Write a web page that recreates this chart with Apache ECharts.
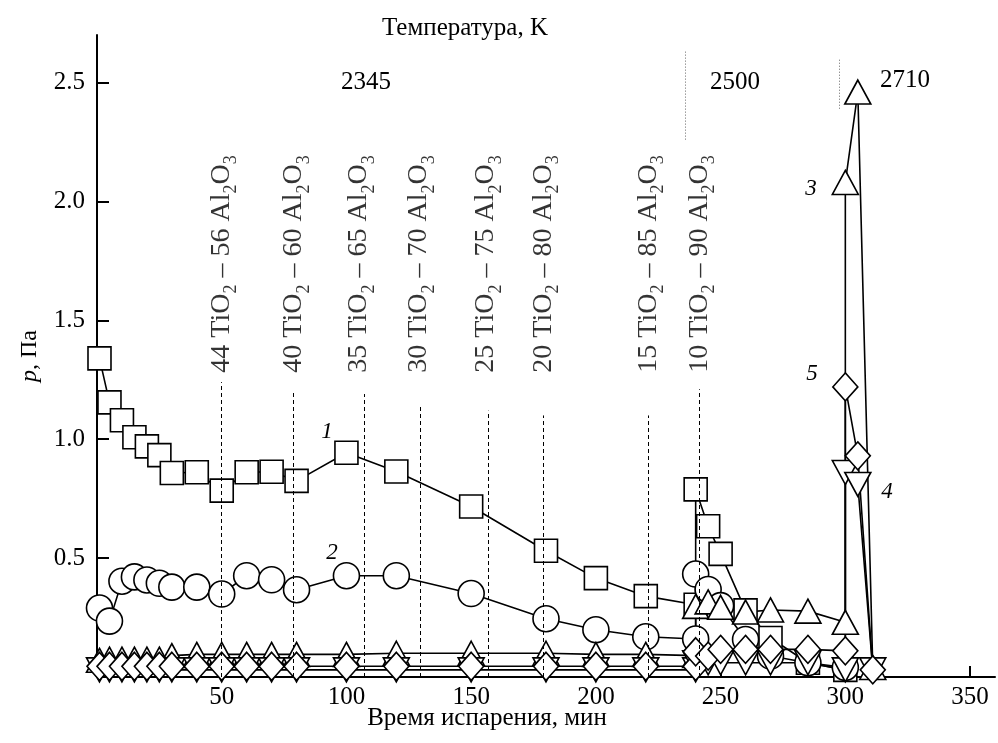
<!DOCTYPE html>
<html lang="ru">
<head>
<meta charset="utf-8" />
<title>Давление пара при испарении TiO2 – Al2O3</title>
<style>
  html, body { margin: 0; padding: 0; background: #fff; }
  #chart { width: 998px; height: 743px; }
</style>
</head>
<body>
<div id="chart"></div>
<script src="https://cdn.jsdelivr.net/npm/echarts@6/dist/echarts.min.js"></script>
<script>
// время испарения, мин (кривые 1, 2)
const time12 = [1, 5, 10, 15, 20, 25, 30, 40, 50, 60, 70, 80, 100, 120, 150, 180, 200, 220, 240, 240, 245, 250, 260, 270, 285, 300];
// время для кривых 3, 4, 5 (есть скачок при 300 мин)
const time345 = [1, 5, 10, 15, 20, 25, 30, 40, 50, 60, 70, 80, 100, 120, 150, 180, 200, 220, 240, 240, 245, 250, 260, 270, 285, 300, 300, 305, 311];

// давление p, Па
const p1 = [1.34, 1.155, 1.08, 1.008, 0.97, 0.933, 0.858, 0.861, 0.784, 0.861, 0.863, 0.825, 0.943, 0.864, 0.717, 0.531, 0.416, 0.34, 0.304, 0.789, 0.634, 0.518, 0.28, 0.164, 0.06, 0.03];
const p2 = [0.29, 0.235, 0.403, 0.421, 0.408, 0.394, 0.378, 0.378, 0.349, 0.426, 0.409, 0.367, 0.426, 0.426, 0.351, 0.245, 0.199, 0.169, 0.16, 0.433, 0.368, 0.3, 0.158, 0.088, 0.06, 0.04];
const p3 = [0.07, 0.075, 0.075, 0.075, 0.075, 0.075, 0.09, 0.095, 0.095, 0.095, 0.095, 0.095, 0.095, 0.1, 0.1, 0.1, 0.095, 0.095, 0.09, 0.297, 0.316, 0.293, 0.273, 0.282, 0.277, 0.23, 2.08, 2.46, 0.04];
const p4 = [0.03, 0.03, 0.03, 0.03, 0.03, 0.03, 0.03, 0.03, 0.03, 0.03, 0.03, 0.03, 0.03, 0.03, 0.03, 0.03, 0.03, 0.03, 0.03, 0.06, 0.06, 0.06, 0.06, 0.06, 0.06, 0.03, 0.86, 0.81, 0.03];
const p5 = [0.045, 0.045, 0.045, 0.045, 0.045, 0.045, 0.045, 0.045, 0.045, 0.045, 0.045, 0.045, 0.045, 0.045, 0.045, 0.045, 0.045, 0.045, 0.045, 0.106, 0.088, 0.116, 0.116, 0.116, 0.116, 0.11, 1.22, 0.93, 0.03];

// составы TiO2 – Al2O3 и границы
const compTi = [44, 40, 35, 30, 25, 20, 15, 10];
const compAl = [56, 60, 65, 70, 75, 80, 85, 90];
const compLabelT = [50, 79, 105, 129, 156, 179, 221, 241.5];
const compLineT = [50, 78.5, 107, 129.5, 157, 179, 221, 241.5];
const compLineTop = [1.24, 1.2, 1.19, 1.14, 1.12, 1.1, 1.1, 1.21];
const compLabelBottom = 1.28;

// температурные ступени
const tempLineT = [236, 297.5];
const tempLineFrom = [2.26, 2.39];
const tempLineTo = [2.63, 2.6];

const xTicks = [50, 100, 150, 200, 250, 300, 350];
const yTicks = [0.5, 1.0, 1.5, 2.0, 2.5];

const serif = "'Liberation Serif', 'DejaVu Serif', serif";

function zip(xs, ys) {
  return xs.map((x, i) => [x, ys[i]]);
}

function curve(name, xs, ys, symbol, size, rotate) {
  return {
    type: "line",
    name: name,
    data: zip(xs, ys),
    symbol: symbol,
    symbolSize: size,
    symbolRotate: rotate || 0,
    showSymbol: true,
    lineStyle: { color: "#000", width: 1.6 },
    itemStyle: { color: "#fff", borderColor: "#000", borderWidth: 1.6 },
    emphasis: { disabled: true },
    silent: true,
  };
}

const chart = echarts.init(document.getElementById("chart"));

const compLines = compLineT.map((t, i) => [
  { coord: [t, 0] },
  { coord: [t, compLineTop[i]] },
]);
const tempLines = tempLineT.map((t, i) => [
  { coord: [t, tempLineFrom[i]] },
  { coord: [t, tempLineTo[i]] },
]);

const textStyle = (txt, x, y, size, italic) => ({
  type: "text",
  x: x,
  y: y,
  z: 100,
  style: {
    text: txt,
    fill: "#000",
    fontFamily: serif,
    fontSize: size,
    fontStyle: italic ? "italic" : "normal",
    align: "center",
    verticalAlign: "middle",
    textAlign: "center",
    textVerticalAlign: "middle",
  },
});

const option = {
  animation: false,
  backgroundColor: "#fff",
  grid: { left: 97, right: 3, top: 35, bottom: 66, outerBoundsMode: "none" },
  xAxis: {
    type: "value",
    min: 0,
    max: 360,
    interval: 50,
    axisLine: { lineStyle: { color: "#000", width: 2 } },
    axisTick: { inside: true, length: 11, customValues: xTicks, lineStyle: { color: "#000", width: 2 } },
    axisLabel: { customValues: xTicks, color: "#000", fontFamily: serif, fontSize: 25, margin: 8 },
    splitLine: { show: false },
  },
  yAxis: {
    type: "value",
    min: 0,
    max: 2.7,
    interval: 0.5,
    name: "{i|p}, Па",
    nameLocation: "middle",
    nameRotate: 90,
    nameGap: 55,
    nameTextStyle: {
      color: "#000",
      fontFamily: serif,
      fontSize: 24,
      rich: { i: { fontStyle: "italic", fontFamily: serif, fontSize: 24 } },
    },
    axisLine: { lineStyle: { color: "#000", width: 2 } },
    axisTick: { inside: true, length: 12, customValues: yTicks, lineStyle: { color: "#000", width: 2 } },
    axisLabel: {
      customValues: yTicks,
      color: "#000",
      fontFamily: serif,
      fontSize: 25,
      margin: 12,
      formatter: (v) => v.toFixed(1),
    },
    splitLine: { show: false },
  },
  series: [
    {
      // границы составов и температур
      type: "scatter",
      data: [],
      silent: true,
      markLine: {
        silent: true,
        symbol: ["none", "none"],
        label: { show: false },
        lineStyle: { color: "#000", width: 1, type: [4, 3] },
        data: compLines,
      },
    },
    {
      type: "scatter",
      data: [],
      silent: true,
      markLine: {
        silent: true,
        symbol: ["none", "none"],
        label: { show: false },
        lineStyle: { color: "#666", width: 1, type: [1, 2] },
        data: tempLines,
      },
    },
    curve("1", time12, p1, "rect", 23),
    curve("2", time12, p2, "circle", 26),
    curve("3", time345, p3, "triangle", [26, 24]),
    curve("4", time345, p4, "triangle", [26, 24], 180),
    curve("5", time345, p5, "diamond", [25, 28]),
    {
      // подписи составов
      type: "scatter",
      data: compLabelT.map((t) => [t, compLabelBottom]),
      symbolSize: 0,
      silent: true,
      z: 10,
      label: {
        show: true,
        position: "inside",
        rotate: 90,
        align: "left",
        verticalAlign: "middle",
        formatter: (p) =>
          "{m|" + compTi[p.dataIndex] + " TiO}{s|2}{m| – " + compAl[p.dataIndex] + " Al}{s|2}{m|O}{s|3}",
        rich: {
          m: { fontFamily: serif, fontSize: 28, color: "#000", lineHeight: 38, verticalAlign: "middle" },
          s: { fontFamily: serif, fontSize: 18, color: "#000", lineHeight: 18, verticalAlign: "bottom" },
        },
      },
    },
  ],
  graphic: [
    textStyle("Температура, K", 465, 28, 25),
    textStyle("Время испарения, мин", 487, 718, 25),
    textStyle("2345", 366, 82, 25),
    textStyle("2500", 735, 82, 25),
    textStyle("2710", 905, 80, 25),
    textStyle("1", 327, 432, 23, true),
    textStyle("2", 332, 553, 23, true),
    textStyle("3", 811, 189, 23, true),
    textStyle("5", 812, 374, 23, true),
    textStyle("4", 887, 492, 23, true),
  ],
};

chart.setOption(option);
window.onresize = function () {
  chart.resize();
};
</script>
</body>
</html>
